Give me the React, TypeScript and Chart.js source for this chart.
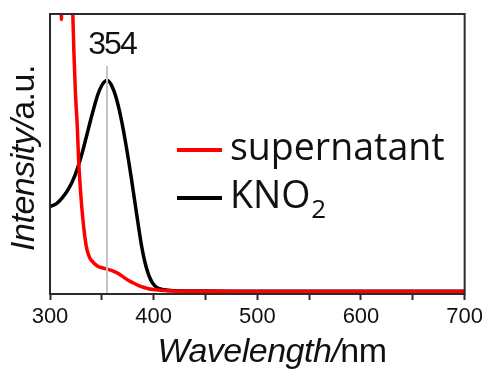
import React, { useEffect, useRef } from "react";
import { Chart, registerables } from "chart.js";

Chart.register(...registerables);

// Wavelength (nm) and intensity (a.u.)
const supernatantX = [300, 305, 310, 311, 312, 315, 320, 322, 323, 324.5, 326.3, 327.6, 329.6, 331.8, 335, 338, 340, 346, 352, 356, 361, 365.5, 370, 375, 380, 385, 390, 395, 400, 407, 420, 450, 500, 600, 700];
const supernatantY = [400, 300, 200, 98, 190, 160, 118, 100, 87, 72, 60, 48, 36, 26.4, 17, 13.2, 12, 9.9, 9.2, 8.8, 8.2, 7.4, 6.3, 5, 4, 3.1, 2.4, 1.9, 1.6, 1.3, 1.05, 0.95, 0.9, 0.85, 0.85];

const kno2X = [300, 306, 312, 318, 324, 330, 336, 342, 348, 354.5, 360, 366, 372, 378, 384, 390, 396, 402, 410, 420, 450, 500, 600, 700];
const kno2Y = [31.2, 32.2, 34.4, 37.6, 42.3, 49, 57.5, 66, 73, 76.3, 74, 67, 56, 42.5, 27.5, 14, 6, 2.6, 1.5, 1.15, 1.05, 1.0, 1.0, 1.0];

const peakX = [355, 355];
const peakY = [0, 81.4];
const peakLabel = "354";

const xTicks = [300, 400, 500, 600, 700];
const seriesNames = ["supernatant", "KNO"];

const toPts = (xs: number[], ys: number[]) => xs.map((x, i) => ({ x, y: ys[i] }));

const overlayPlugin = {
  id: "overlay",
  afterDraw(chart: any) {
    const ctx = chart.ctx as CanvasRenderingContext2D;
    const a = chart.chartArea;
    const xs = chart.scales.x;
    ctx.save();
    // frame
    ctx.strokeStyle = "#2b2b2b";
    ctx.lineWidth = 2;
    ctx.strokeRect(a.left, a.top, a.right - a.left, a.bottom - a.top);

    // peak label
    ctx.fillStyle = "#111";
    ctx.font = '32px "Liberation Sans"';
    (ctx as any).letterSpacing = "-2px";
    ctx.textAlign = "center";
    ctx.textBaseline = "alphabetic";
    ctx.fillText(peakLabel, xs.getPixelForValue(peakX[0]) + 5, 54);
    (ctx as any).letterSpacing = "0px";

    // legend
    ctx.lineWidth = 4;
    ctx.strokeStyle = "#ff0000";
    ctx.beginPath();
    ctx.moveTo(177, 150);
    ctx.lineTo(222, 150);
    ctx.stroke();
    ctx.strokeStyle = "#000";
    ctx.beginPath();
    ctx.moveTo(177, 198);
    ctx.lineTo(222, 198);
    ctx.stroke();
    ctx.textAlign = "left";
    ctx.fillStyle = "#111";
    ctx.font = '37.5px "Open Sans"';
    ctx.fillText(seriesNames[0], 230, 160);
    ctx.fillText(seriesNames[1], 230, 208);
    const kw = ctx.measureText(seriesNames[1]).width;
    ctx.font = '26px "Open Sans"';
    ctx.fillText("2", 230 + kw + 1, 218);

    // axis titles
    const drawMixed = (parts: { t: string; it: boolean }[], cx: number, y: number) => {
      let total = 0;
      const widths = parts.map((p) => {
        ctx.font = (p.it ? "italic " : "") + '34px "Liberation Sans"';
        const w = ctx.measureText(p.t).width;
        total += w;
        return w;
      });
      let x = cx - total / 2;
      ctx.textAlign = "left";
      parts.forEach((p, i) => {
        ctx.font = (p.it ? "italic " : "") + '34px "Liberation Sans"';
        ctx.fillText(p.t, x, y);
        x += widths[i];
      });
    };
    ctx.fillStyle = "#111";
    (ctx as any).letterSpacing = "-0.5px";
    drawMixed([{ t: "Wavelength/", it: true }, { t: "nm", it: false }], 272, 362);
    ctx.save();
    ctx.translate(34, 158);
    ctx.rotate(-Math.PI / 2);
    drawMixed([{ t: "Intensity/", it: true }, { t: "a.u.", it: false }], 0, 0);
    ctx.restore();
    (ctx as any).letterSpacing = "0px";
    ctx.restore();
  },
};

export default function App() {
  const ref = useRef<HTMLCanvasElement | null>(null);
  useEffect(() => {
    if (!ref.current) return;
    const chart = new Chart(ref.current, {
      type: "line",
      data: {
        datasets: [
          {
            label: "peak",
            data: toPts(peakX, peakY),
            borderColor: "#c4c4c4",
            borderWidth: 2,
            pointRadius: 0,
            order: 0,
          },
          {
            label: seriesNames[0],
            data: toPts(supernatantX, supernatantY),
            borderColor: "#ff0000",
            borderWidth: 3.5,
            pointRadius: 0,
            cubicInterpolationMode: "monotone",
            order: 1,
          },
          {
            label: "KNO2",
            data: toPts(kno2X, kno2Y),
            borderColor: "#000000",
            borderWidth: 3.5,
            pointRadius: 0,
            tension: 0.4,
            order: 2,
          },
        ],
      },
      options: {
        responsive: false,
        animation: false,
        devicePixelRatio: 1,
        layout: { padding: { top: 14, right: 22, left: 0, bottom: 0 } },
        plugins: { legend: { display: false }, tooltip: { enabled: false } },
        scales: {
          x: {
            type: "linear",
            min: 300,
            max: 700,
            border: { display: false },
            grid: {
              display: true,
              drawOnChartArea: false,
              drawTicks: true,
              tickLength: 6,
              tickColor: "#2b2b2b",
              tickWidth: 2,
            },
            ticks: {
              stepSize: 50,
              padding: 4,
              color: "#111",
              font: { family: "Liberation Sans", size: 22 },
              maxRotation: 0,
              autoSkip: false,
              callback: (v: any) => (xTicks.includes(Number(v)) ? String(v) : ""),
            },
            afterFit: (s: any) => {
              s.height = 76;
            },
          },
          y: {
            min: 0,
            max: 100,
            border: { display: false },
            grid: { display: false },
            ticks: { display: false },
            afterFit: (s: any) => {
              s.width = 50;
            },
          },
        },
      },
      plugins: [overlayPlugin],
    } as any);
    return () => chart.destroy();
  }, []);
  return (
    <div style={{ position: "absolute", left: 0, top: 0, width: 487, height: 370, background: "#fff" }}>
      <canvas ref={ref} width={487} height={370} />
    </div>
  );
}
